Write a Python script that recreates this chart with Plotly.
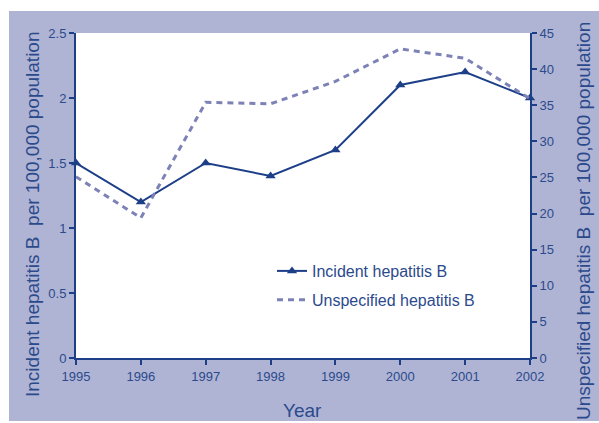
import plotly.graph_objects as go

# Hepatitis B notification rates per 100,000 population
years = [1995, 1996, 1997, 1998, 1999, 2000, 2001, 2002]
incident_rate = [1.5, 1.2, 1.5, 1.4, 1.6, 2.1, 2.2, 2.0]
unspecified_rate = [25.1, 19.4, 35.4, 35.2, 38.3, 42.8, 41.5, 35.9]

left_ticks = [0, 0.5, 1, 1.5, 2, 2.5]
left_tick_text = ["0", "0.5", "1", "1.5", "2", "2.5"]
right_ticks = [0, 5, 10, 15, 20, 25, 30, 35, 40, 45]

NAVY = "#1c3f88"
DASH = "#7d82b6"
PANEL = "#b0b4d4"
TEXT = "#2b4a8c"
FONT = "Liberation Sans, Arial, sans-serif"

W, H = 599, 423
L, R, T, B = 76, 69, 33, 65
pw, ph = W - L - R, H - T - B


def px_x(x):
    """Pixel column -> paper x."""
    return (x - L) / pw


def px_y(y):
    """Pixel row (from top) -> paper y."""
    return (H - B - y) / ph


fig = go.Figure()

fig.add_trace(go.Scatter(
    x=years, y=incident_rate, name="Incident hepatitis B",
    mode="lines+markers", legendgroup="a",
    line=dict(color=NAVY, width=2),
    marker=dict(symbol="triangle-up", size=9, color=NAVY),
    yaxis="y", cliponaxis=False,
))
fig.add_trace(go.Scatter(
    x=years, y=unspecified_rate, name="Unspecified hepatitis B",
    mode="lines", legendgroup="b",
    line=dict(color=DASH, width=3, dash="6px,5px"),
    yaxis="y2", cliponaxis=False,
))

# White margins around the shaded panel (top strip, left strip, bottom sliver)
for x0, x1, y0, y1 in [
    (0, W, 0, 11),
    (0, 9, 0, H),
    (0, W, H - 2, H),
]:
    fig.add_shape(type="rect", xref="paper", yref="paper", layer="below",
                  x0=px_x(x0), x1=px_x(x1), y0=px_y(y1), y1=px_y(y0),
                  fillcolor="white", line=dict(width=0))

title_font = dict(family=FONT, size=19, color=TEXT)
fig.add_annotation(text="Year", x=px_x(302), y=px_y(410), xref="paper", yref="paper",
                   xanchor="center", yanchor="middle", showarrow=False, font=title_font)
fig.add_annotation(text="Incident hepatitis B  per 100,000 population",
                   x=px_x(33), y=px_y(214), xref="paper", yref="paper", textangle=-90,
                   xanchor="center", yanchor="middle", showarrow=False, font=title_font)
fig.add_annotation(text="Unspecified hepatitis B  per 100,000 population",
                   x=px_x(583), y=px_y(221), xref="paper", yref="paper", textangle=-90,
                   xanchor="center", yanchor="middle", showarrow=False, font=title_font)

axis_common = dict(
    showline=True, linecolor=NAVY, linewidth=2,
    ticks="outside", ticklen=5, tickwidth=1.5, tickcolor=NAVY,
    showgrid=False, zeroline=False, automargin=False,
    tickfont=dict(family=FONT, size=13, color=TEXT),
)

fig.update_layout(
    width=W, height=H,
    margin=dict(l=L, r=R, t=T, b=B, autoexpand=False),
    paper_bgcolor=PANEL, plot_bgcolor="white",
    font=dict(family=FONT, color=TEXT),
    xaxis=dict(range=[1995, 2002], tickmode="array", tickvals=years, **axis_common),
    yaxis=dict(range=[0, 2.5], tickmode="array", tickvals=left_ticks,
               ticktext=left_tick_text, **axis_common),
    yaxis2=dict(range=[0, 45], tickmode="array", tickvals=right_ticks,
                overlaying="y", side="right", **axis_common),
    legend=dict(
        x=px_x(272), y=px_y(254), xanchor="left", yanchor="top",
        bgcolor="rgba(0,0,0,0)", font=dict(family=FONT, size=16, color=TEXT),
        traceorder="grouped", tracegroupgap=5, itemwidth=30,
    ),
    showlegend=True,
)

fig.write_html("out.html")
